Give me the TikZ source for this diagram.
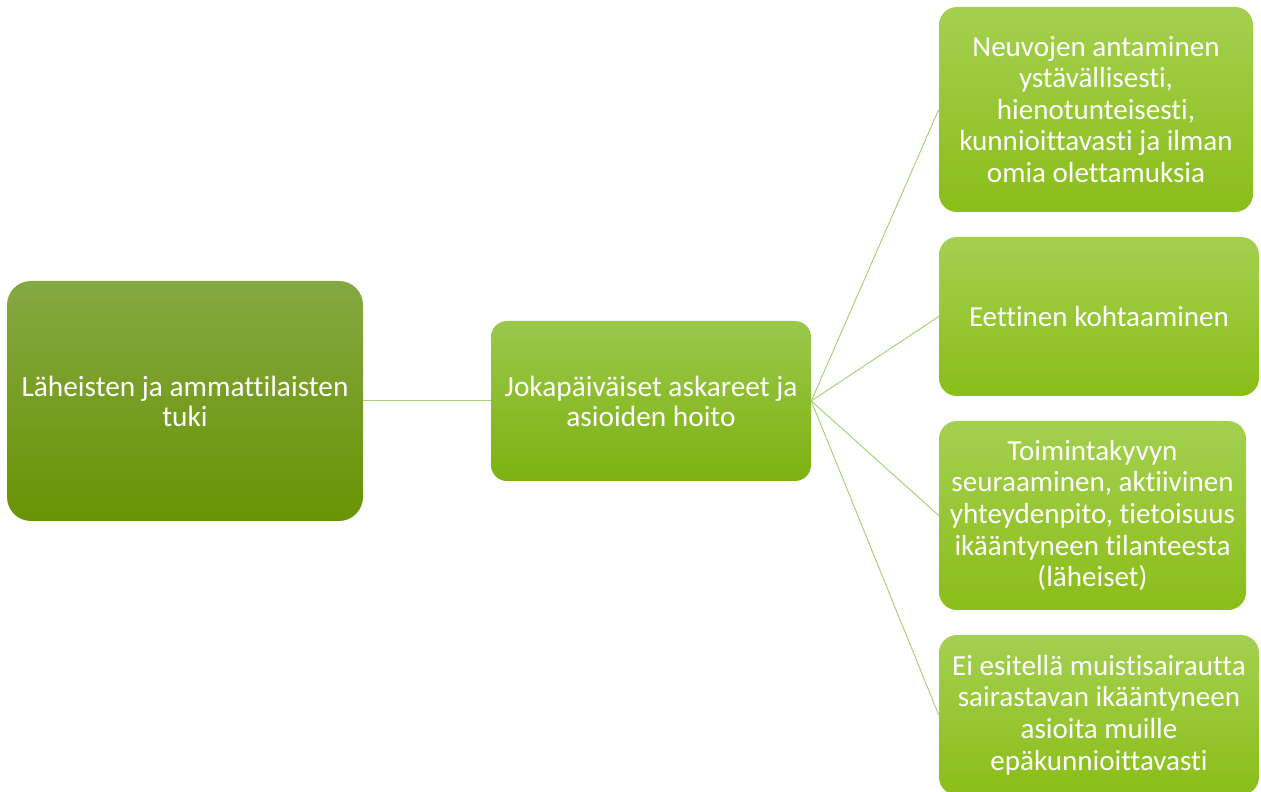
\documentclass[tikz,border=0pt]{standalone}
\usepackage{fontspec}
\setmainfont{Carlito}[Ligatures=NoCommon]
\usepackage{tikz}

\definecolor{linegreen}{RGB}{172,208,120}
\definecolor{roottop}{RGB}{134,168,66}
\definecolor{rootbot}{RGB}{104,148,4}
\definecolor{midtop}{RGB}{155,200,75}
\definecolor{midbot}{RGB}{124,178,16}
\definecolor{leaftop}{RGB}{164,208,80}
\definecolor{leafbot}{RGB}{138,190,24}

\tikzset{
  box/.style={rounded corners=13.5pt, inner sep=2pt, align=center,
    text=white, font=\fontsize{21.8}{23.7}\selectfont},
  rootbox/.style={box, rounded corners=18pt, top color=roottop, bottom color=rootbot,
    minimum width=267pt, minimum height=180pt, font=\fontsize{22}{22.5}\selectfont},
  midbox/.style={box, rounded corners=12pt, top color=midtop, bottom color=midbot,
    minimum width=240pt, minimum height=120pt, font=\fontsize{22}{22.5}\selectfont},
  leafbox/.style={box, top color=leaftop, bottom color=leafbot},
  link/.style={draw=linegreen, line width=0.75pt}
}

\begin{document}
\begin{tikzpicture}[x=0.75pt,y=0.75pt]
\useasboundingbox (0,0) rectangle (1261,792);

% left side
\node[rootbox] (tuki) at (185,391) {Läheisten ja ammattilaisten\\tuki};
\node[midbox] (askareet) at (651,391) {Jokapäiväiset askareet ja\\asioiden hoito};

% right column
\node[leafbox, minimum width=235.5pt, minimum height=153.75pt] (neuvot) at (1096,682.5)
  {Neuvojen antaminen\\ystävällisesti,\\hienotunteisesti,\\kunnioittavasti ja ilman\\omia olettamuksia};
\node[leafbox, minimum width=240pt, minimum height=119.25pt] (eettinen) at (1099,475.5)
  {Eettinen kohtaaminen};
\node[leafbox, minimum width=230.25pt, minimum height=141.75pt] (seuranta) at (1092.5,276.5)
  {Toimintakyvyn\\seuraaminen, aktiivinen\\yhteydenpito, tietoisuus\\ikääntyneen tilanteesta\\(läheiset)};
\node[leafbox, minimum width=240pt, minimum height=120pt] (esittely) at (1099,77)
  {Ei esitellä muistisairautta\\sairastavan ikääntyneen\\asioita muille\\epäkunnioittavasti};

% connectors
\draw[link] (tuki.east) -- (askareet.west);
\foreach \leaf in {neuvot,eettinen,seuranta,esittely}
  \draw[link] (askareet.east) -- (\leaf.west);
\end{tikzpicture}
\end{document}
